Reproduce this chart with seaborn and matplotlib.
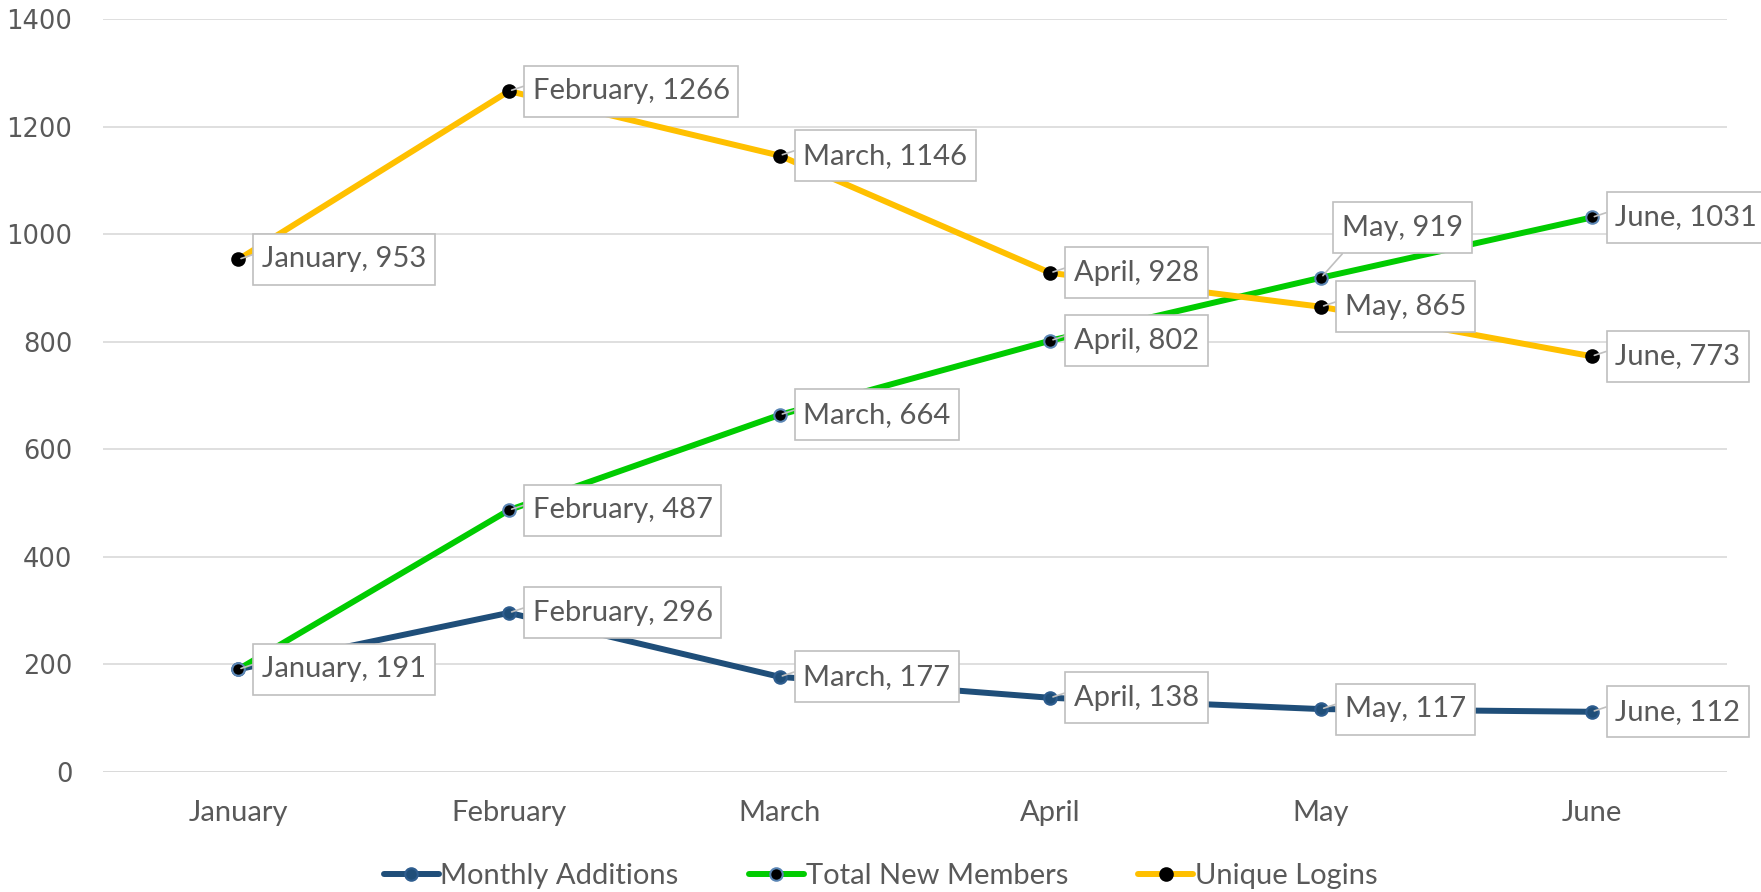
import matplotlib
matplotlib.use("Agg")
import matplotlib.pyplot as plt
import seaborn as sns
import pandas as pd
from matplotlib.lines import Line2D
from matplotlib.path import Path

months = ["January", "February", "March", "April", "May", "June"]
monthly_additions = [191, 296, 177, 138, 117, 112]
total_new_members = [191, 487, 664, 802, 919, 1031]
unique_logins = [953, 1266, 1146, 928, 865, 773]
series_names = ["Monthly Additions", "Total New Members", "Unique Logins"]
y_ticks = [0, 200, 400, 600, 800, 1000, 1200, 1400]

sns.set_theme(style="white")
plt.rcParams["font.family"] = ["Lato", "DejaVu Sans"]

fig = plt.figure(figsize=(17.61, 8.92), dpi=100)
ax = fig.add_axes([0.0585, 0.1345, 0.9222, 0.8442])

styles = {
    "Monthly Additions": dict(color="#1F4E79", mfc="#1F4E79", mec="#2E5D8F"),
    "Total New Members": dict(color="#00CC00", mfc="#000000", mec="#5B86B5"),
    "Unique Logins": dict(color="#FFC000", mfc="#000000", mec="#000000"),
}
data = {
    "Monthly Additions": monthly_additions,
    "Total New Members": total_new_members,
    "Unique Logins": unique_logins,
}

for name in series_names:
    df = pd.DataFrame({"month": months, "value": data[name]})
    st = styles[name]
    sns.lineplot(data=df, x="month", y="value", ax=ax, color=st["color"],
                 linewidth=4.3, marker="o", markersize=9,
                 markerfacecolor=st["mfc"], markeredgecolor=st["mec"],
                 markeredgewidth=1.5, sort=False, zorder=3)

ax.set_xlim(-0.5, 5.5)
ax.set_ylim(0, 1400)
ax.set_yticks(y_ticks)
ax.set_yticklabels([str(v) for v in y_ticks], family="DejaVu Sans",
                   fontsize=18.5, color="#595959")
ax.set_xticks(range(len(months)))
ax.set_xticklabels(months, fontsize=21, color="#595959")
ax.tick_params(axis="x", pad=20, length=0)
ax.tick_params(axis="y", pad=22, length=0)
ax.set_xlabel("")
ax.set_ylabel("")
ax.grid(axis="y", color="#d9d9d9", linewidth=1.2)
ax.set_axisbelow(True)
for s in ax.spines.values():
    s.set_visible(False)
ax.axhline(0, color="#d9d9d9", linewidth=1.2, zorder=1)


def label_box(x0, y0, width, height, mutation_size):
    padx = 0.30 * mutation_size
    pady = 0.43 * mutation_size
    x1, y1 = x0 + width + padx, y0 + height + pady
    x0, y0 = x0 - padx, y0 - pady
    return Path([(x0, y0), (x1, y0), (x1, y1), (x0, y1), (x0, y0)],
                closed=True)


def label(i, val, dx=17, dy=0, relpos=(0, 0.8)):
    ax.annotate(f"{months[i]}, {val}", xy=(i, val), xytext=(dx, dy),
                textcoords="offset points", ha="left", va="center",
                fontsize=21, color="#595959", zorder=5,
                bbox=dict(boxstyle=label_box, fc="white",
                          ec="#bfbfbf", lw=1.2),
                arrowprops=dict(arrowstyle="-", color="#bfbfbf", lw=1.2,
                                shrinkA=0, shrinkB=2, relpos=relpos))


for i, v in enumerate(unique_logins):
    label(i, v)
for i, v in enumerate(total_new_members):
    if i == 0:
        continue
    if months[i] == "May":
        label(i, v, dx=15, dy=36, relpos=(0.1, 0))
    else:
        label(i, v)
for i, v in enumerate(monthly_additions):
    label(i, v)

handles = [Line2D([0], [0], color=styles[n]["color"], lw=4.3, marker="o",
                  markersize=9, markerfacecolor=styles[n]["mfc"],
                  markeredgecolor=styles[n]["mec"], markeredgewidth=1.5)
           for n in series_names]
fig.legend(handles, series_names, loc="center", bbox_to_anchor=(0.5, 0.018),
           ncol=3, frameon=False, fontsize=21, handlelength=1.9,
           handletextpad=0.05, columnspacing=2.4, labelcolor="#595959")

fig.savefig("out.png", dpi=100)
